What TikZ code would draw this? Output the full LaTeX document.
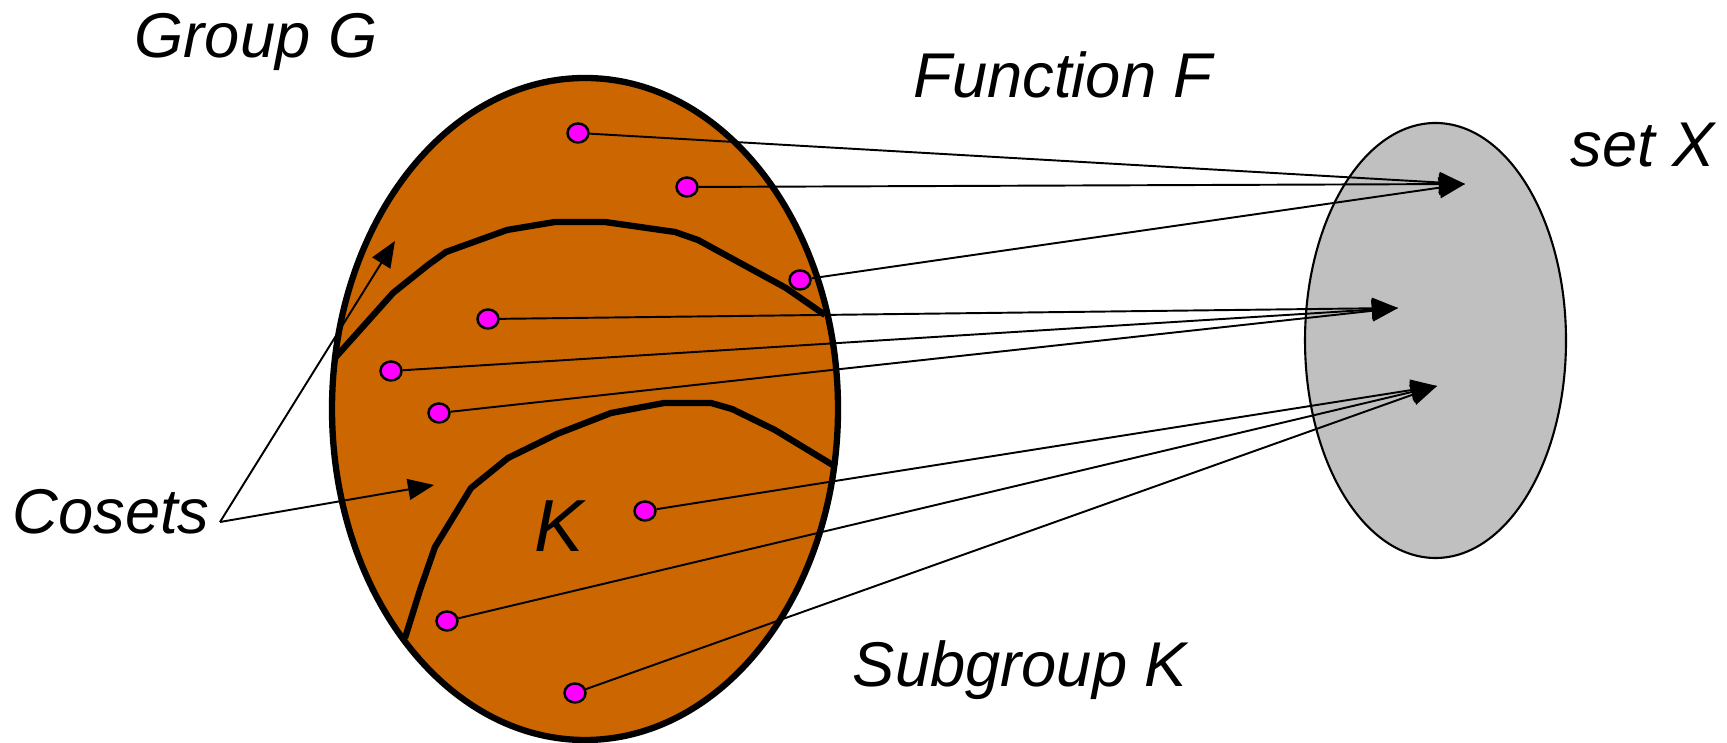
\documentclass[tikz,border=0pt]{standalone}
\usepackage{fontspec}
\newfontfamily\lblfont{Liberation Sans}
\usetikzlibrary{positioning, arrows.meta, shapes.geometric}
\definecolor{grouporange}{RGB}{204,102,0}
\definecolor{setgray}{RGB}{192,192,192}
\definecolor{dotmagenta}{RGB}{255,0,255}

\begin{document}
\begin{tikzpicture}[
    group/.style={ellipse, draw, line width=1.8pt, fill=grouporange, minimum width=5.06cm, minimum height=6.62cm, inner sep=0pt},
    setx/.style={ellipse, draw, line width=0.6pt, fill=setgray, minimum width=2.61cm, minimum height=4.35cm, inner sep=0pt},
    dot/.style={ellipse, draw, line width=0.7pt, fill=dotmagenta, minimum width=0.21cm, minimum height=0.19cm, inner sep=0pt},
    coset/.style={line width=1.8pt, line join=miter},
    arrow/.style={-{Triangle[length=0.26cm, width=0.21cm]}, line width=0.55pt},
    label/.style={font=\lblfont\itshape\fontsize{18}{21}\selectfont, anchor=base, inner sep=0pt}
]

\useasboundingbox (0,0) rectangle (17.27,7.42);

% Group G and set X
\node[group] (G) at (5.85,3.33) {};
\node[setx] (X) at (14.355,4.015) {};

% Coset boundaries
\draw[coset] (3.34,3.83) -- (3.93,4.49) -- (4.28,4.77) -- (4.46,4.90) -- (5.07,5.12)
    -- (5.55,5.20) -- (6.05,5.20) -- (6.75,5.10) -- (6.98,5.02) -- (7.86,4.54) -- (8.25,4.27);
\draw[coset] (4.05,1.04) -- (4.20,1.52) -- (4.35,1.95) -- (4.71,2.54) -- (5.08,2.84)
    -- (5.57,3.08) -- (6.11,3.29) -- (6.375,3.34) -- (6.64,3.39) -- (7.11,3.39)
    -- (7.32,3.33) -- (7.75,3.12) -- (8.36,2.75);

% Elements of G
\node[dot] (d1) at (5.78,6.09) {};
\node[dot] (d2) at (6.87,5.55) {};
\node[dot] (d3) at (8.00,4.62) {};
\node[dot] (d4) at (4.88,4.23) {};
\node[dot] (d5) at (3.91,3.71) {};
\node[dot] (d6) at (4.39,3.29) {};
\node[dot] (d7) at (6.45,2.31) {};
\node[dot] (d8) at (4.47,1.21) {};
\node[dot] (d9) at (5.75,0.49) {};

% Images in X
\coordinate (xa) at (14.65,5.58);
\coordinate (xb) at (13.98,4.34);
\coordinate (xc) at (14.37,3.56);

% Arrows of F
\draw[arrow] (d1) -- (xa);
\draw[arrow] (d2) -- (xa);
\draw[arrow] (d3) -- (xa);
\draw[arrow] (d4) -- (xb);
\draw[arrow] (d5) -- (xb);
\draw[arrow] (d6) -- (xb);
\draw[arrow] (d7) -- (xc);
\draw[arrow] (d8) -- (xc);
\draw[arrow] (d9) -- (xc);

% Labels
\node[label] (lg) at (2.56,6.84) {Group G};
\node[label] (lf) at (10.63,6.44) {Function F};
\node[label] (lx) at (16.43,5.75) {set X};
\node[label] (lc) at (1.11,2.08) {Cosets};
\node[label] (ls) at (10.20,0.56) {Subgroup K};
\node[label, font=\lblfont\itshape\fontsize{21}{24}\selectfont] (lk) at (5.59,1.90) {K};

% Cosets pointers
\coordinate (cs) at (2.20,2.20);
\coordinate (ca) at (3.95,5.01);
\coordinate (cb) at (4.34,2.57);
\draw[arrow] (cs) -- (ca);
\draw[arrow] (cs) -- (cb);

\end{tikzpicture}
\end{document}
